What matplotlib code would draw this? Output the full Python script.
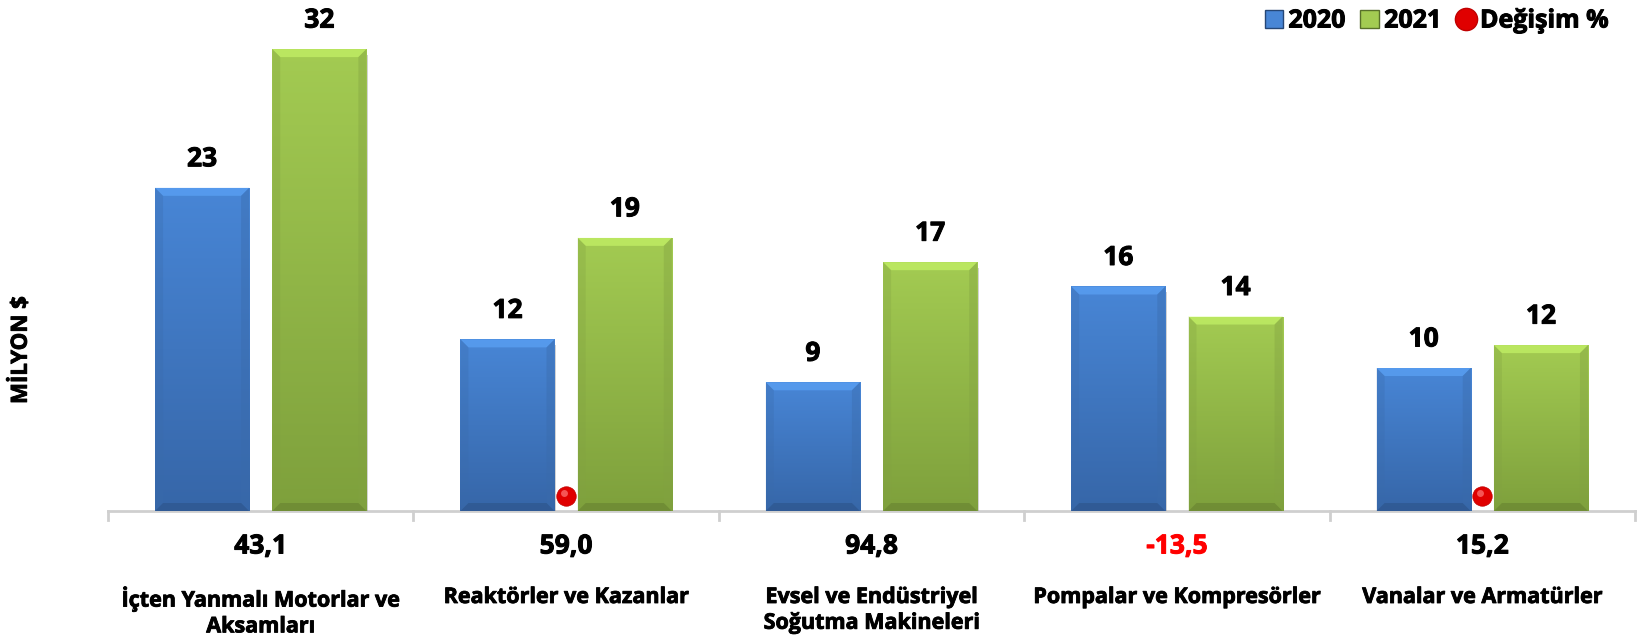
import matplotlib
matplotlib.use("Agg")
import matplotlib.pyplot as plt
import matplotlib.patches as mpatches
import matplotlib.patheffects as pe
from matplotlib.lines import Line2D
from matplotlib.transforms import IdentityTransform
import numpy as np

categories = ["İçten Yanmalı Motorlar ve\nAksamları", "Reaktörler ve Kazanlar",
              "Evsel ve Endüstriyel\nSoğutma Makineleri", "Pompalar ve Kompresörler",
              "Vanalar ve Armatürler"]
values_2020 = [22.6, 12.0, 9.0, 15.7, 10.0]
values_2021 = [32.3, 19.1, 17.4, 13.6, 11.6]
change_pct = [43.1, 59.0, 94.8, -13.5, 15.2]
marker_visible = [False, True, False, False, True]
series_names = ["2020", "2021", "Değişim %"]

FONT = ["Open Sans", "DejaVu Sans"]
plt.rcParams['font.family'] = FONT


def bold(color='black', w=0.7):
    return [pe.withStroke(linewidth=w, foreground=color)]


W, H, DPI = 1640, 643, 100
fig = plt.figure(figsize=(W / DPI, H / DPI), dpi=DPI)
left, right = 108, 1635
base_y = 511
ymax = 35.0
px_per_unit = 14.3
top_y = base_y - ymax * px_per_unit
ax = fig.add_axes([left / W, (H - base_y) / H, (right - left) / W, (base_y - top_y) / H])
ax.set_xlim(-0.5, len(categories) - 0.5)
ax.set_ylim(0, ymax)
ax.axis('off')

x = np.arange(len(categories))
off = 0.192
bw = 0.308

blue_top = np.array([72, 134, 214]) / 255
blue_bot = np.array([54, 102, 168]) / 255
green_top = np.array([163, 203, 82]) / 255
green_bot = np.array([126, 160, 60]) / 255


def draw_bar(xc, h, ctop, cbot):
    x0, x1 = xc - bw / 2, xc + bw / 2
    rect = mpatches.Rectangle((x0, 0), bw, h, facecolor=cbot, edgecolor='none', zorder=2,
                              path_effects=[pe.SimplePatchShadow(offset=(1, -4), shadow_rgbFace='#707070', alpha=0.3),
                                            pe.Normal()])
    ax.add_patch(rect)
    grad = np.linspace(0, 1, 256)[:, None]
    img = np.zeros((256, 1, 3))
    for k in range(3):
        img[:, 0, k] = ctop[k] * (1 - grad[:, 0]) + cbot[k] * grad[:, 0]
    im = ax.imshow(img, extent=(x0, x1, 0, h), origin='upper', aspect='auto', zorder=3,
                   interpolation='bilinear')
    im.set_clip_path(rect)
    (px0, py0) = ax.transData.transform((x0, 0))
    (px1, py1) = ax.transData.transform((x1, h))
    b = 8
    light = np.clip(ctop * 1.2 + 0.04, 0, 1)
    dark = ctop * 0.8
    darker = cbot * 0.75
    polys = [
        ([(px0, py1), (px1, py1), (px1 - b, py1 - b), (px0 + b, py1 - b)], light, 0.55),
        ([(px0, py0), (px0, py1), (px0 + b, py1 - b), (px0 + b, py0 + b)], dark, 0.3),
        ([(px1, py0), (px1, py1), (px1 - b, py1 - b), (px1 - b, py0 + b)], dark, 0.4),
        ([(px0, py0), (px1, py0), (px1 - b, py0 + b), (px0 + b, py0 + b)], darker, 0.45),
    ]
    for pts, col, a in polys:
        fig.patches.append(mpatches.Polygon(pts, closed=True, facecolor=col, edgecolor='none',
                                            alpha=a, transform=IdentityTransform(), zorder=4))


for i in range(len(categories)):
    draw_bar(x[i] - off, values_2020[i], blue_top, blue_bot)
    draw_bar(x[i] + off, values_2021[i], green_top, green_bot)
    ax.annotate(f"{values_2020[i]:.0f}", (x[i] - off, values_2020[i]), xytext=(0, 29),
                textcoords='offset pixels', ha='center', va='center', fontsize=19,
                fontweight='bold', color='black', path_effects=bold())
    ax.annotate(f"{values_2021[i]:.0f}", (x[i] + off, values_2021[i]), xytext=(0, 29),
                textcoords='offset pixels', ha='center', va='center', fontsize=19,
                fontweight='bold', color='black', path_effects=bold())
    pct = f"{change_pct[i]:.1f}".replace('.', ',')
    pc = '#FF0000' if change_pct[i] < 0 else 'black'
    ax.annotate(pct, (x[i], 0), xytext=(0, -35), textcoords='offset pixels', ha='center',
                va='center', fontsize=19, fontweight='bold', color=pc,
                annotation_clip=False, path_effects=bold(pc))
    ax.annotate(categories[i], (x[i], 0), xytext=(0, -76), textcoords='offset pixels',
                ha='center', va='top', fontsize=15.5, fontweight='bold', color='black',
                linespacing=1.3, annotation_clip=False, path_effects=bold(w=0.6))

for i in range(len(categories)):
    if marker_visible[i]:
        ax.plot(x[i], 1.05, 'o', markersize=14, color='#E00000', markeredgecolor='#C00000',
                markeredgewidth=0.5, zorder=6, clip_on=False)
        ax.plot(x[i] - 0.008, 1.25, 'o', markersize=5, color='#FF7A7A', alpha=0.7,
                markeredgewidth=0, zorder=7, clip_on=False)

ax.plot([-0.5, len(categories) - 0.5], [0, 0], color='#CFCFCF', lw=2, zorder=1, clip_on=False)
for k in range(len(categories) + 1):
    ax.plot([k - 0.5, k - 0.5], [0, -0.6], color='#CFCFCF', lw=2, zorder=1, clip_on=False)

fig.text(21 / W, 1 - 350 / H, "MİLYON $", rotation=90, ha='center', va='center',
         fontsize=16, fontweight='bold', path_effects=bold(w=0.6))

handles = [
    mpatches.Patch(facecolor=blue_top, edgecolor=blue_bot * 0.7, label=series_names[0]),
    mpatches.Patch(facecolor=green_top, edgecolor=green_bot * 0.7, label=series_names[1]),
    Line2D([], [], marker='o', color='none', markerfacecolor='#E00000', markeredgecolor='#C00000',
           markersize=16, label=series_names[2]),
]
leg = fig.legend(handles=handles, loc='upper right', bbox_to_anchor=(1631 / W, 1 + 14 / H), ncol=3,
                 frameon=False, prop={'family': FONT, 'weight': 'bold', 'size': 18},
                 handlelength=0.75, handleheight=0.75, handletextpad=0.2, columnspacing=0.6)
for t in leg.get_texts():
    t.set_path_effects(bold())

fig.savefig("out.png", dpi=DPI)
